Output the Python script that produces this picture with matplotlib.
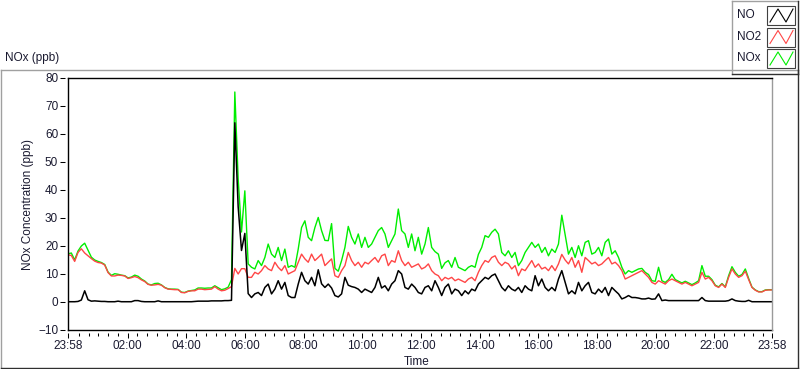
import matplotlib
matplotlib.use("Agg")
import matplotlib.pyplot as plt
import numpy as np
from matplotlib.lines import Line2D
from matplotlib.patches import Rectangle

# =============================================================================
# data - one reading every ~6.8 min, time in minutes after midnight
# =============================================================================
t = np.linspace(-2, 1438, 212)

no = [0.1, 0.1, 0.1, 0.2, 0.7, 4.0, 0.8, 0.3, 0.4, 0.3,
      0.2, 0.2, 0.1, 0.1, 0.1, 0.3, 0.1, 0.1, 0.1, 0.1,
      0.5, 0.5, 0.2, 0.1, 0.1, 0.1, 0.1, 0.4, 0.1, 0.1,
      0.1, 0.1, 0.1, 0.1, 0.1, 0.1, 0.1, 0.1, 0.2, 0.3,
      0.3, 0.3, 0.3, 0.4, 0.4, 0.4, 0.4, 0.5, 0.5, 0.6,
      64.0, 34.0, 18.4, 24.5, 3.0, 1.6, 2.9, 3.4, 2.3, 5.2,
      6.4, 2.9, 4.6, 7.6, 4.6, 7.0, 2.3, 1.6, 1.6, 6.4,
      10.6, 7.6, 6.4, 8.8, 5.8, 11.5, 6.5, 5.2, 6.4, 5.0,
      2.3, 1.8, 2.9, 8.8, 6.0, 5.5, 5.2, 4.6, 3.4, 4.6,
      4.0, 3.4, 5.2, 8.8, 5.0, 5.8, 4.0, 6.4, 7.6, 11.2,
      10.0, 5.2, 4.6, 6.4, 5.2, 3.4, 2.9, 5.2, 5.8, 4.0,
      7.6, 5.2, 2.3, 5.2, 6.4, 2.9, 4.6, 4.0, 2.3, 4.0,
      2.9, 4.6, 4.0, 6.4, 7.6, 8.8, 8.2, 9.4, 10.0, 7.6,
      5.2, 4.0, 5.8, 4.6, 4.0, 5.2, 3.4, 5.8, 4.6, 4.0,
      9.4, 5.8, 8.2, 5.2, 4.0, 5.2, 4.0, 8.2, 11.2, 7.0,
      2.9, 4.0, 2.9, 7.0, 4.0, 5.8, 7.0, 3.4, 2.9, 4.6,
      3.4, 5.2, 2.3, 5.2, 4.0, 2.9, 1.1, 1.6, 2.3, 1.6,
      1.6, 1.4, 1.1, 1.1, 1.4, 1.0, 1.1, 2.9, 0.5, 0.7,
      0.5, 0.5, 0.5, 0.5, 0.5, 0.5, 0.5, 0.5, 0.5, 0.5,
      1.6, 0.5, 0.3, 0.3, 0.3, 0.3, 0.3, 0.3, 0.5, 1.1,
      0.5, 0.3, 0.2, 0.2, 0.6, 0.1, 0.1, 0.1, 0.1, 0.1,
      0.1, 0.1]

no2 = [16.9, 16.6, 14.5, 17.7, 19.0, 17.5, 16.5, 15.5, 14.6, 14.1,
       13.9, 13.2, 10.5, 9.3, 9.3, 9.6, 9.5, 9.3, 8.4, 8.7,
       9.1, 8.7, 7.9, 7.3, 6.3, 6.0, 6.1, 6.3, 6.0, 5.1,
       4.6, 4.5, 4.4, 4.4, 3.4, 3.3, 3.8, 4.0, 4.0, 4.6,
       4.6, 4.4, 4.5, 4.6, 5.5, 4.6, 4.0, 4.2, 4.8, 5.5,
       12.0, 10.0, 11.9, 11.9, 8.8, 8.8, 10.6, 10.0, 11.2, 13.0,
       11.8, 11.2, 14.2, 12.4, 11.2, 13.0, 10.0, 10.6, 11.2, 14.2,
       17.1, 15.4, 14.2, 17.1, 14.8, 15.9, 17.1, 13.0, 14.2, 15.4,
       9.4, 8.8, 11.2, 13.0, 17.7, 14.8, 13.0, 14.2, 12.4, 14.2,
       13.6, 14.8, 15.9, 14.2, 16.5, 17.1, 13.0, 14.8, 14.2, 18.3,
       14.8, 13.0, 14.2, 12.4, 13.0, 13.6, 11.8, 12.4, 13.6, 11.2,
       10.0, 9.4, 7.6, 8.8, 8.2, 8.8, 7.6, 8.2, 7.6, 7.0,
       8.2, 8.8, 7.6, 10.6, 13.0, 14.8, 14.2, 15.9, 16.5, 14.2,
       13.0, 14.2, 13.6, 11.8, 13.0, 9.4, 11.8, 11.2, 13.0, 14.8,
       12.4, 13.6, 11.8, 12.4, 11.2, 13.0, 11.2, 13.6, 17.0, 15.0,
       13.6, 15.9, 12.4, 14.8, 10.6, 15.9, 14.8, 13.6, 14.2, 13.0,
       13.6, 14.8, 15.9, 13.6, 14.2, 13.0, 11.2, 8.2, 8.8, 9.4,
       10.0, 10.6, 11.2, 10.0, 8.8, 7.0, 6.4, 7.6, 7.0, 6.4,
       7.6, 8.2, 7.6, 7.0, 6.4, 7.0, 6.4, 5.8, 6.4, 7.0,
       10.6, 8.2, 8.8, 7.6, 5.8, 5.2, 6.4, 5.2, 8.8, 11.8,
       10.0, 8.8, 9.4, 11.0, 8.0, 5.2, 4.2, 3.6, 3.6, 4.2,
       4.3, 4.3]

nox = [17.2, 17.5, 15.0, 18.2, 20.0, 21.0, 18.5, 16.0, 15.0, 14.5,
       14.1, 13.4, 10.7, 9.5, 10.1, 9.9, 9.6, 9.4, 8.6, 8.9,
       9.6, 9.2, 8.2, 7.5, 6.4, 6.1, 6.6, 6.7, 6.1, 5.2,
       4.7, 4.6, 4.6, 4.5, 3.5, 3.4, 3.9, 4.1, 4.3, 5.0,
       5.0, 4.9, 5.0, 5.0, 5.8, 5.1, 4.4, 4.7, 5.3, 8.0,
       75.0, 44.0, 25.0, 39.7, 13.6, 12.4, 11.8, 14.8, 13.0, 15.9,
       20.7, 17.1, 15.9, 19.5, 14.8, 18.9, 12.4, 13.0, 12.4, 18.9,
       26.6, 29.0, 23.1, 21.9, 26.6, 30.2, 25.5, 22.0, 21.9, 28.0,
       12.0, 11.0, 14.8, 19.5, 27.0, 23.1, 20.7, 24.3, 19.5, 23.1,
       19.5, 20.7, 23.1, 25.5, 26.6, 24.3, 19.5, 21.9, 24.3, 33.2,
       25.5, 24.3, 19.5, 24.3, 18.3, 23.1, 17.1, 20.7, 26.6, 19.5,
       18.0, 17.1, 12.0, 14.0, 14.8, 12.4, 15.9, 12.4, 11.8, 11.2,
       12.4, 13.0, 12.4, 17.0, 19.5, 23.7, 23.1, 24.9, 26.0, 24.3,
       17.7, 16.5, 18.3, 15.9, 17.7, 13.0, 14.8, 17.7, 19.5, 21.3,
       19.5, 20.7, 17.7, 19.5, 16.5, 18.9, 17.7, 20.7, 31.0, 24.0,
       17.1, 19.5, 15.9, 20.1, 16.5, 21.3, 21.9, 17.1, 17.7, 19.5,
       16.5, 21.3, 22.5, 17.1, 18.3, 15.9, 12.4, 10.0, 11.2, 10.6,
       11.2, 11.8, 12.0, 10.6, 9.8, 7.6, 7.4, 12.4, 7.6, 7.0,
       8.0, 9.9, 8.0, 7.4, 6.8, 7.4, 6.8, 6.2, 6.8, 7.6,
       13.0, 9.2, 9.2, 8.0, 6.0, 5.4, 6.6, 5.4, 9.4, 12.6,
       10.6, 9.2, 9.8, 11.8, 8.4, 5.3, 4.3, 3.7, 3.7, 4.3,
       4.4, 4.4]

tick_pos = [-2, 120, 240, 360, 480, 600, 720, 840, 960, 1080, 1200, 1320, 1438]
tick_lab = ["23:58", "02:00", "04:00", "06:00", "08:00", "10:00", "12:00",
            "14:00", "16:00", "18:00", "20:00", "22:00", "23:58"]

names = ["NO", "NO2", "NOx"]
colors = ["#000000", "#ff4646", "#00ee00"]

W, H = 800, 369
def fx(x):
    return x / W
def fy(y):
    return 1 - y / H

plt.rcParams['font.family'] = ['Liberation Sans', 'DejaVu Sans']
txt = "#1a1a30"
fs = 8.5

fig = plt.figure(figsize=(8, 3.69), dpi=100)
ax = fig.add_axes([fx(68), fy(330), 704 / W, 252 / H])

ax.plot(t, nox, color=colors[2], lw=1.0)
ax.plot(t, no2, color=colors[1], lw=1.0)
ax.plot(t, no, color=colors[0], lw=1.1)

ax.set_xlim(-2, 1438)
ax.set_ylim(-10, 80)
ax.set_yticks(np.arange(-10, 81, 10))
ax.set_xticks(tick_pos)
ax.set_xticklabels(tick_lab)
minors = [m for m in range(20, 1440, 20) if m % 120 != 0]
ax.set_xticks(minors, minor=True)

# ticks sit a little away from the axis lines
for s in ["left", "bottom"]:
    ax.spines[s].set_position(("outward", 2))
    ax.spines[s].set_visible(False)
ax.spines["top"].set_color("black")
ax.spines["top"].set_linewidth(1.0)
ax.spines["right"].set_color("#9a9a9a")
ax.spines["right"].set_linewidth(1.0)
ax.axvline(-2, color="black", lw=1.0, clip_on=False)
ax.axhline(-10, color="black", lw=1.0, clip_on=False)

ax.tick_params(axis="both", which="major", direction="out", length=3.6,
               width=0.75, color="black", labelsize=fs, labelcolor=txt)
ax.tick_params(axis="x", which="minor", direction="out", length=2.4,
               width=0.75, color="black")
ax.tick_params(axis="x", pad=1.5)
ax.tick_params(axis="y", pad=1.5)

ax.set_ylabel("NOx Concentration (ppb)", fontsize=fs, color=txt, labelpad=3)
fig.text(fx(417), fy(362), "Time", fontsize=fs, color=txt, ha="center", va="center")
fig.text(fx(5), fy(58), "NOx (ppb)", fontsize=fs, color=txt, ha="left", va="center")

# outer frame
def fline(x0, y0, x1, y1, c):
    fig.add_artist(Line2D([fx(x0), fx(x1)], [fy(y0), fy(y1)], color=c, lw=1.0,
                          transform=fig.transFigure))
fline(0.5, 69.5, 797.5, 69.5, "#a0a0a0")
fline(0.5, 69.5, 0.5, 367.5, "#a0a0a0")
fline(0.5, 367.5, 797.5, 367.5, "#303030")
fline(797.5, 69.5, 797.5, 367.5, "#303030")

# legend box
fig.add_artist(Rectangle((fx(731), fy(74)), 67 / W, 74 / H, facecolor="white",
                         edgecolor="none", transform=fig.transFigure))
fline(731.5, 0.5, 797.5, 0.5, "#a0a0a0")
fline(731.5, 0.5, 731.5, 73.5, "#a0a0a0")
fline(731.5, 73.5, 797.5, 73.5, "#303030")
fline(797.5, 0.5, 797.5, 73.5, "#303030")

for k, (nm, c) in enumerate(zip(names, colors)):
    top = 6 + k * 21.5
    fig.text(fx(737), fy(top + 9), nm, fontsize=fs, color=txt, ha="left", va="center")
    fig.add_artist(Rectangle((fx(767), fy(top + 19)), 28 / W, 19 / H,
                             facecolor="white", edgecolor="#404040", lw=0.8,
                             transform=fig.transFigure))
    zx = [770, 778, 786, 793]
    zy = [top + 16, top + 3, top + 16, top + 3]
    fig.add_artist(Line2D([fx(v) for v in zx], [fy(v) for v in zy], color=c,
                          lw=0.8, transform=fig.transFigure))

fig.savefig("out.png", dpi=100)
